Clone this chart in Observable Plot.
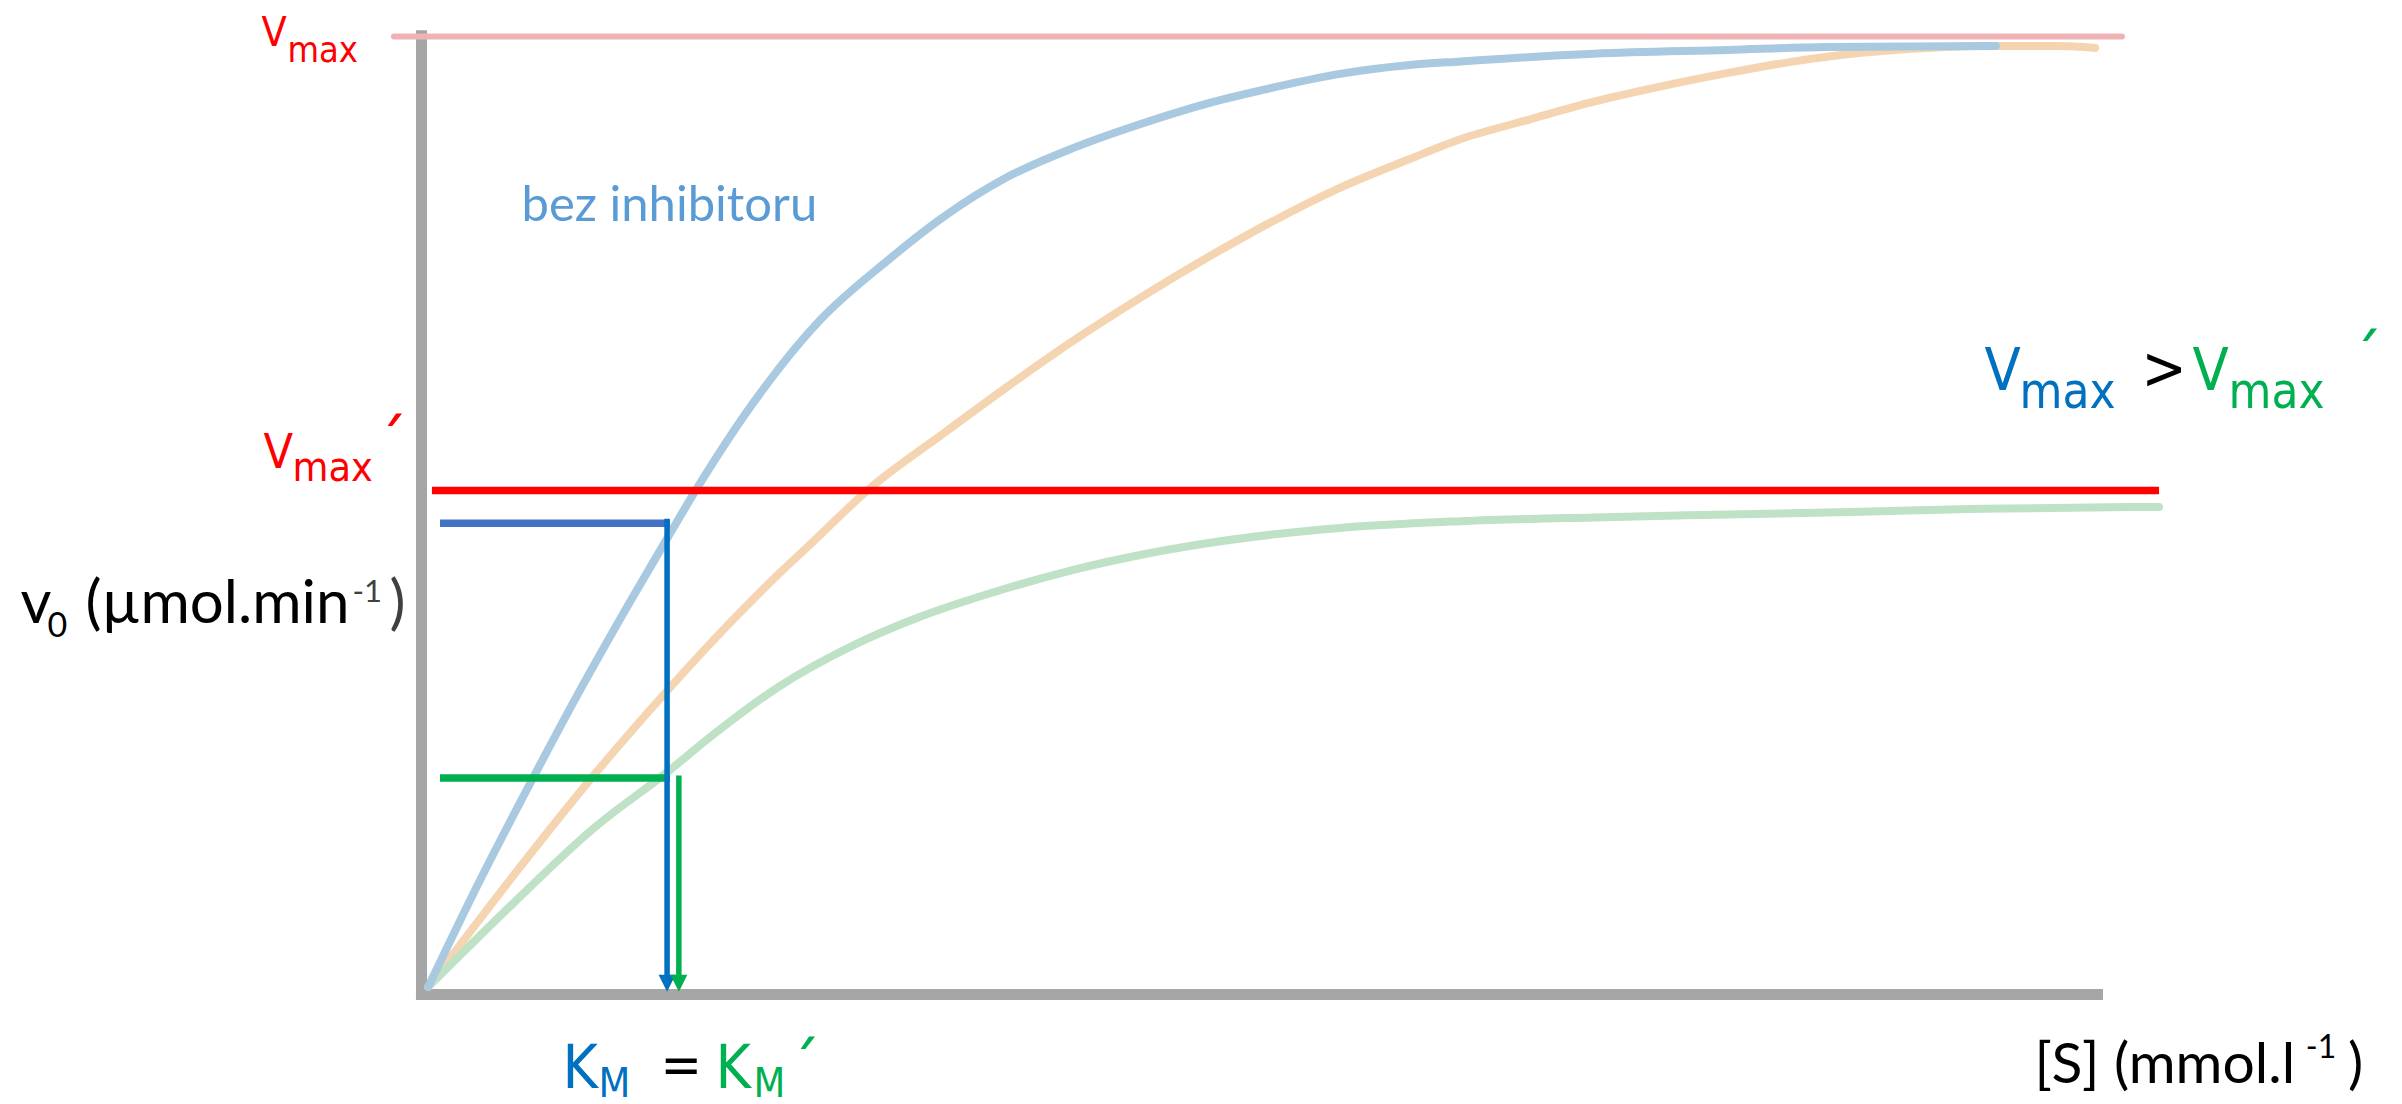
<!DOCTYPE html>
<html>
<head>
<meta charset="utf-8">
<script src="https://cdn.jsdelivr.net/npm/d3@7"></script>
<script src="https://cdn.jsdelivr.net/npm/@observablehq/plot@0.6"></script>
<style>
  html, body { margin: 0; padding: 0; background: #ffffff; overflow: hidden; }
  #chart svg { display: block; }
</style>
</head>
<body>
<div id="chart"></div>
<script>
// ---- Values (relative units: [S] 0..100, v0 0..100 = vmax) ----
const vmax = 100;
const vmaxInhib = 52.6;      // vmax´
const kmHalfBlue = 49.2;     // level of the blue KM guide
const kmHalfGreen = 22.6;    // level of the green KM guide
const kmBlue = 14.6;         // KM
const kmGreen = 15.3;        // KM´

// curve without inhibitor (blue)
const blueS = [0.4, 3.5, 6.9, 9.5, 12.4, 14.7, 16.4, 19.7, 23.7, 27.7, 30.9, 34.8, 38.8, 42.8, 46.7, 50.7, 54.6, 58.6, 61.8, 69.7, 77.7, 83.6, 93.6];
const blueV = [0.8, 12.0, 23.5, 32.0, 41.0, 47.9, 52.9, 61.7, 70.4, 76.6, 81.0, 85.3, 88.4, 90.9, 93.0, 94.7, 96.1, 97.0, 97.4, 98.2, 98.6, 98.9, 99.0];

// orange curve
const orangeS = [0.4, 5.5, 10.2, 14.6, 18.4, 21.3, 23.0, 26.7, 30.9, 34.8, 38.8, 42.8, 46.7, 50.7, 54.6, 58.6, 61.8, 65.8, 69.7, 73.7, 77.7, 81.6, 85.6, 89.5, 92.7, 97.4, 99.5];
const orangeV = [0.8, 12.5, 22.8, 31.7, 38.9, 44.0, 46.8, 52.9, 58.4, 63.4, 68.3, 72.8, 76.9, 80.8, 84.2, 87.1, 89.3, 91.3, 93.2, 94.8, 96.2, 97.4, 98.3, 98.8, 99.0, 99.0, 98.8];

// green curve (with inhibitor)
const greenS = [0.4, 5.5, 10.2, 14.6, 17.4, 21.3, 25.5, 29.6, 34.4, 38.7, 42.8, 46.7, 54.6, 61.8, 69.7, 77.7, 85.6, 92.7, 103.3];
const greenV = [0.8, 9.6, 17.3, 23.2, 27.2, 32.2, 36.3, 39.4, 42.2, 44.3, 45.9, 47.1, 48.7, 49.4, 49.8, 50.1, 50.4, 50.7, 50.9];

// ---- Text annotations: x = left edge of the glyph ink, base = baseline, top = top of glyph ink (data units) ----
const tahomaText = [
  {x: -9.51,  base: 99.06,  t: "V",   c: "#ff0000", fs: 41},
  {x: -7.85,  base: 97.39,  t: "max", c: "#ff0000", fs: 36},
  {x: -9.39,  base: 55.00,  t: "V",   c: "#ff0000", fs: 48},
  {x: -7.49,  base: 53.55,  t: "max", c: "#ff0000", fs: 41},
  {x: -2.02,  top: 60.65,   t: "´",   c: "#ff0000", acc: 13},
  {x: 92.93,  base: 63.05,  t: "V",   c: "#0070c0", fs: 59},
  {x: 95.24,  base: 61.27,  t: "max", c: "#0070c0", fs: 49},
  {x: 102.56, top: 67.01,   t: ">",   c: "#000000", fs: 60},
  {x: 105.29, base: 63.05,  t: "V",   c: "#00b050", fs: 59},
  {x: 107.67, base: 61.27,  t: "max", c: "#00b050", fs: 49},
  {x: 115.40, top: 69.62,   t: "´",   c: "#00b050", acc: 13},
  {x: 8.68,   base: -9.81,  t: "K",   c: "#0070c0", fs: 60},
  {x: 10.70,  base: -10.65, t: "M",   c: "#0070c0", fs: 41},
  {x: 14.51,  top: -6.68,   t: "=",   c: "#000000", fs: 55},
  {x: 17.78,  base: -9.81,  t: "K",   c: "#00b050", fs: 60},
  {x: 19.92,  base: -10.65, t: "M",   c: "#00b050", fs: 41},
  {x: 22.53,  top: -4.38,   t: "´",   c: "#00b050", acc: 13}
];
const calibriText = [
  {x: -23.84, base: 38.83, t: "v",           c: "#000000", fs: 60},
  {x: -22.18, base: 37.27, t: "0",           c: "#000000", fs: 34},
  {x: -19.86, base: 38.83, t: "(µmol.min",   c: "#000000", fs: 60},
  {x: -4.05,  base: 40.92, t: "-1",          c: "#404040", fs: 31},
  {x: -1.84,  base: 38.83, t: ")",           c: "#404040", fs: 60},
  {x: 96.20,  base: -9.29, t: "[S] (mmol.l", c: "#000000", fs: 57},
  {x: 112.15, base: -6.68, t: "-1",          c: "#000000", fs: 32},
  {x: 114.60, base: -9.29, t: ")",           c: "#000000", fs: 57},
  {x: 6.12,   base: 80.69, t: "bez inhibitoru", c: "#5b9bd5", fs: 49}
];

// ---- Tables built from the arrays ----
const toPts = (S, V) => S.map((s, i) => ({s, v: V[i]}));
const bluePts = toPts(blueS, blueV);
const orangePts = toPts(orangeS, orangeV);
const greenPts = toPts(greenS, greenV);

const hGuides = [
  {v: kmHalfBlue, s1: 1.13, s2: 14.8, c: "#4472c4"},
  {v: kmHalfGreen, s1: 1.13, s2: 14.8, c: "#00b050"}
];
const vGuides = [
  {s: kmBlue, v1: kmHalfBlue + 0.4, v2: 1.5, c: "#0070c0"},
  {s: kmGreen, v1: kmHalfGreen + 0.2, v2: 1.5, c: "#00b050"}
];
const arrowTips = [
  {s: kmBlue, v: 0.3, c: "#0070c0"},
  {s: kmGreen, v: 0.3, c: "#00b050"}
];

const W = 2402, H = 1104;
const xDomain = [0, 100], xRange = [421, 2103];
const yDomain = [0, 100], yRange = [994, 36];

// align each text piece by its ink, using the same fonts through canvas metrics
const xs = d3.scaleLinear(xDomain, xRange);
const ys = d3.scaleLinear(yDomain, yRange);
const ctx = document.createElement("canvas").getContext("2d");
function placeText(rows, family) {
  return rows.map(d => {
    let fs = d.fs;
    if (d.acc) {
      ctx.font = `100px ${family}`;
      const m0 = ctx.measureText(d.t);
      const h0 = m0.actualBoundingBoxAscent + m0.actualBoundingBoxDescent;
      fs = h0 > 0 ? Math.min(140, 100 * d.acc / h0) : 60;
    }
    ctx.font = `${fs}px ${family}`;
    const m = ctx.measureText(d.t);
    const ax = xs(d.x) + m.actualBoundingBoxLeft;
    const by = d.top != null ? ys(d.top) + m.actualBoundingBoxAscent : ys(d.base);
    return {t: d.t, c: d.c, fs, s: xs.invert(ax), v: ys.invert(by)};
  });
}

// downward triangle with its tip at the anchor point
const downTriangle = {
  draw(c, size) {
    const r = Math.sqrt(size / Math.PI);
    c.moveTo(-r, -2 * r);
    c.lineTo(r, -2 * r);
    c.lineTo(0, 0);
    c.closePath();
  }
};

const tahoma = "'DejaVu Sans Condensed', 'DejaVu Sans', Verdana, sans-serif";
const calibri = "Lato, 'Open Sans', sans-serif";
const tahomaLabels = placeText(tahomaText, tahoma);
const calibriLabels = placeText(calibriText, calibri);

const chart = Plot.plot({
  width: W,
  height: H,
  margin: 0,
  style: {background: "#ffffff", overflow: "visible"},
  x: {domain: xDomain, range: xRange, axis: null},
  y: {domain: yDomain, range: yRange, axis: null},
  color: {type: "identity"},
  marks: [
    // axes
    Plot.ruleX([0], {y1: -0.55, y2: 100.6, stroke: "#a6a6a6", strokeWidth: 11}),
    Plot.ruleY([0], {x1: -0.3, x2: 100, stroke: "#a6a6a6", strokeWidth: 11}),
    // curves
    Plot.line(orangePts, {x: "s", y: "v", stroke: "#f5d5b1", strokeWidth: 8, curve: "monotone-x", strokeLinecap: "round"}),
    Plot.line(greenPts, {x: "s", y: "v", stroke: "#bfe1c6", strokeWidth: 8, curve: "monotone-x", strokeLinecap: "round"}),
    Plot.line(bluePts, {x: "s", y: "v", stroke: "#a9c9e1", strokeWidth: 8, curve: "monotone-x", strokeLinecap: "round"}),
    // vmax and vmax´
    Plot.ruleY([vmax], {x1: -1.61, x2: 101.13, stroke: "#efb3b5", strokeWidth: 6, strokeLinecap: "round"}),
    Plot.ruleY([vmaxInhib], {x1: 0.65, x2: 103.33, stroke: "#ff0000", strokeWidth: 7.5}),
    // KM guides
    Plot.ruleY(hGuides, {y: "v", x1: "s1", x2: "s2", stroke: "c", strokeWidth: 7.5}),
    Plot.ruleX(vGuides, {x: "s", y1: "v1", y2: "v2", stroke: "c", strokeWidth: 5.5}),
    Plot.dot(arrowTips, {x: "s", y: "v", fill: "c", stroke: null, r: 8.5, symbol: downTriangle}),
    // texts
    Plot.text(tahomaLabels, {x: "s", y: "v", text: "t", fill: "c", fontSize: "fs", textAnchor: "start", lineAnchor: "bottom", fontFamily: tahoma}),
    Plot.text(calibriLabels, {x: "s", y: "v", text: "t", fill: "c", fontSize: "fs", textAnchor: "start", lineAnchor: "bottom", fontFamily: calibri})
  ]
});
document.getElementById("chart").append(chart);
</script>
</body>
</html>
